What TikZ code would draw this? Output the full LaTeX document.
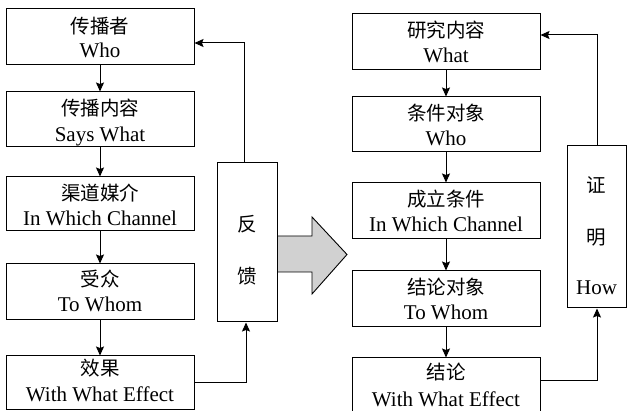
\documentclass[tikz,border=0pt]{standalone}
\usepackage{fontspec}
\setmainfont{Liberation Serif}
\newfontfamily\cjk{Noto Sans CJK SC}
\usetikzlibrary{arrows.meta,calc}

\tikzset{
  box/.style={draw, line width=1pt, rectangle, inner sep=0pt, minimum width=188pt},
  tallbox/.style={draw, line width=1pt, rectangle, inner sep=0pt},
  cn/.style={anchor=base, inner sep=0pt, font=\cjk\fontsize{19.5pt}{20pt}\selectfont},
  en/.style={anchor=base, inner sep=0pt, font=\fontsize{21pt}{22pt}\selectfont},
  arr/.style={line width=1pt, -{Stealth[length=9pt,width=8pt,inset=1.5pt]}},
  bigarrow/.style={draw, line width=0.9pt, fill=black!18, line join=miter}
}

\begin{document}
\begin{tikzpicture}[x=1pt,y=-1pt]
\useasboundingbox (0,0) rectangle (627,411);
\clip (0,0) rectangle (627,411);

% ---- left column: communication model ----
\node[box, minimum height=56pt] (L1) at (100,37) {};
\node[cn] (L1c) at (100,33.6) {传播者};
\node[en] (L1e) at (100,57.5) {Who};

\node[box, minimum height=55pt] (L2) at (100,119.5) {};
\node[cn] (L2c) at (100,116) {传播内容};
\node[en] (L2e) at (100,141.5) {Says What};

\node[box, minimum height=54pt] (L3) at (100,204) {};
\node[cn] (L3c) at (100,200.6) {渠道媒介};
\node[en] (L3e) at (100,226) {In Which Channel};

\node[box, minimum height=56pt] (L4) at (100,292) {};
\node[cn] (L4c) at (100,286.6) {受众};
\node[en] (L4e) at (100,312) {To Whom};

\node[box, minimum height=54pt] (L5) at (100,383) {};
\node[cn] (L5c) at (100,375.6) {效果};
\node[en] (L5e) at (100,401.5) {With What Effect};

\foreach \a/\b in {L1/L2,L2/L3,L3/L4,L4/L5}
  \draw[arr] (\a) -- (\b);

% feedback loop
\node[tallbox, minimum width=60pt, minimum height=159pt] (FB) at (247,242.5) {};
\node[cn] (FBa) at (247,232) {反};
\node[cn] (FBb) at (247,283.6) {馈};

\coordinate (fbtop) at (244,43);
\coordinate (fbbot) at (246,383);
\draw[arr] (fbtop |- FB.north) -- (fbtop) -- (fbtop -| L1.east);
\draw[arr] (fbbot -| L5.east) -- (fbbot) -- (fbbot |- FB.south);

% transfer arrow
\draw[bigarrow] (FB.east |- 0,236) -- (312,236) -- (312,217) -- (347,254.5)
  -- (312,294) -- (312,272) -- (FB.east |- 0,272) -- cycle;

% ---- right column: research model ----
\node[box, minimum height=56pt] (R1) at (446,42) {};
\node[cn] (R1c) at (446,37.6) {研究内容};
\node[en] (R1e) at (446,62.5) {What};

\node[box, minimum height=55pt] (R2) at (446,124.5) {};
\node[cn] (R2c) at (446,120.6) {条件对象};
\node[en] (R2e) at (446,146) {Who};

\node[box, minimum height=56pt] (R3) at (446,211) {};
\node[cn] (R3c) at (446,206.6) {成立条件};
\node[en] (R3e) at (446,232) {In Which Channel};

\node[box, minimum height=56pt] (R4) at (446,299) {};
\node[cn] (R4c) at (446,294.6) {结论对象};
\node[en] (R4e) at (446,320) {To Whom};

\node[box, minimum height=58pt] (R5) at (446,387) {};
\node[cn] (R5c) at (446,379.6) {结论};
\node[en] (R5e) at (446,407) {With What Effect};

\foreach \a/\b in {R1/R2,R2/R3,R3/R4,R4/R5}
  \draw[arr] (\a) -- (\b);

% proof loop
\node[tallbox, minimum width=59pt, minimum height=162pt] (PF) at (596.5,227) {};
\node[cn] (PFa) at (596.5,192.6) {证};
\node[cn] (PFb) at (596.5,244.6) {明};
\node[en] (PFc) at (596.5,295) {How};

\coordinate (pftop) at (597,35);
\coordinate (pfbot) at (597,381);
\draw[arr] (pftop |- PF.north) -- (pftop) -- (pftop -| R1.east);
\draw[arr] (pfbot -| R5.east) -- (pfbot) -- (pfbot |- PF.south);
\end{tikzpicture}
\end{document}
